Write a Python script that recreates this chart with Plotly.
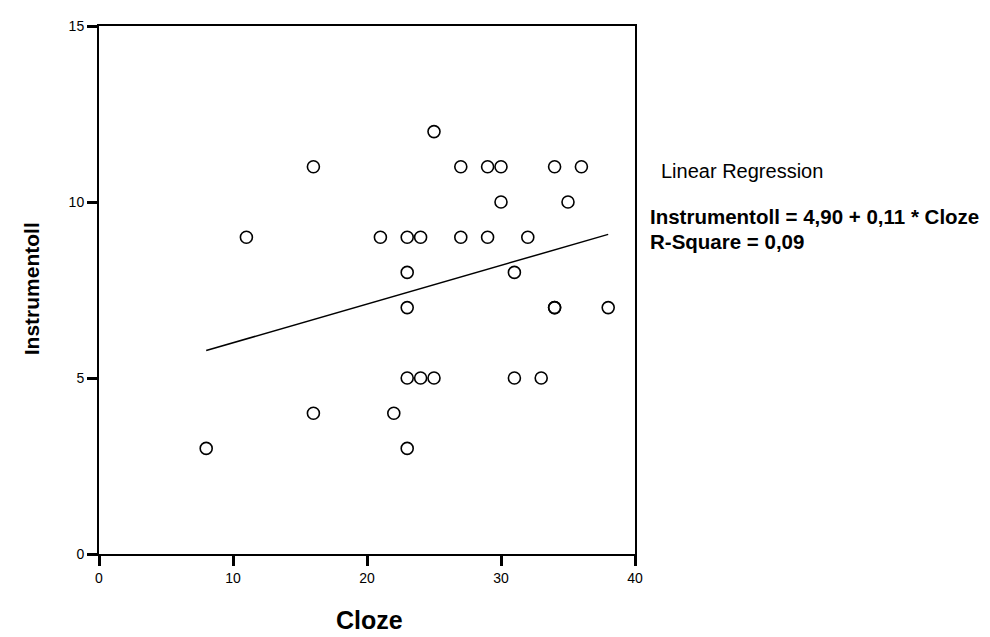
import plotly.graph_objects as go

# Data
cloze = [8, 11, 16, 16, 21, 22, 23, 23, 23, 23, 23, 24, 24, 25, 25, 27, 27,
         29, 29, 30, 30, 31, 31, 32, 33, 34, 34, 34, 35, 36, 38]
instrumentoll = [3, 9, 11, 4, 9, 4, 9, 8, 7, 5, 3, 9, 5, 5, 12, 11, 9,
                 11, 9, 11, 10, 8, 5, 9, 5, 11, 7, 7, 10, 11, 7]

intercept = 4.90
slope = 0.11
line_x = [min(cloze), max(cloze)]
line_y = [intercept + slope * v for v in line_x]

x_ticks = [0, 10, 20, 30, 40]
y_ticks = [0, 5, 10, 15]

FONT = "Liberation Sans, Arial, sans-serif"

# page offset (browser body margin) and plot box in page pixels
OFF = 8
PL, PR, PT, PB = 99, 635, 17.5, 554
W, H = 990, 637
l, r = PL - OFF, W - (PR - OFF)
t, b = PT - OFF, H - (PB - OFF)
pw, ph = PR - PL, PB - PT


def px(x):
    return (x - PL) / pw


def py(y):
    return (PB - y) / ph


fig = go.Figure()
fig.add_trace(go.Scatter(
    x=line_x, y=line_y, mode="lines",
    line=dict(color="black", width=1.5), showlegend=False, hoverinfo="skip"))
fig.add_trace(go.Scatter(
    x=cloze, y=instrumentoll, mode="markers",
    marker=dict(symbol="circle-open", size=12, color="black", line=dict(width=1.6)),
    showlegend=False))

axis_common = dict(showgrid=False, zeroline=False, showline=True, linecolor="black",
                   linewidth=2, mirror=True, ticks="outside", ticklen=10, tickwidth=3,
                   tickcolor="black", tickfont=dict(size=14, family=FONT, color="black"))

fig.update_layout(
    width=W, height=H,
    margin=dict(l=l, r=r, t=t, b=b, pad=0),
    paper_bgcolor="white", plot_bgcolor="white",
    font=dict(family=FONT, color="black", size=14),
    xaxis=dict(range=[0, 40], tickvals=x_ticks, ticktext=[str(v) for v in x_ticks],
               **axis_common),
    yaxis=dict(range=[0, 15], tickvals=y_ticks, ticktext=[str(v) for v in y_ticks],
               **axis_common),
    annotations=[
        dict(text="<b>Cloze</b>", xref="paper", yref="paper", x=px(369), y=py(621),
             showarrow=False, yanchor="middle", xanchor="center",
             font=dict(size=25, family=FONT)),
        dict(text="<b>Instrumentoll</b>", xref="paper", yref="paper", x=px(31), y=py(285),
             showarrow=False, xanchor="center", yanchor="middle", textangle=-90,
             font=dict(size=21, family=FONT)),
        dict(text="Linear Regression", xref="paper", yref="paper",
             x=px(659), y=py(165), xanchor="left",
             yanchor="middle", showarrow=False, font=dict(size=20, family=FONT)),
        dict(text="<b>Instrumentoll = 4,90 + 0,11 * Cloze</b>", xref="paper",
             yref="paper", x=px(648), y=py(211),
             xanchor="left", yanchor="middle", showarrow=False,
             font=dict(size=20.5, family=FONT)),
        dict(text="<b>R-Square = 0,09</b>", xref="paper", yref="paper",
             x=px(648), y=py(236), xanchor="left",
             yanchor="middle", showarrow=False, font=dict(size=20.5, family=FONT)),
    ],
)

fig.write_html("out.html")
